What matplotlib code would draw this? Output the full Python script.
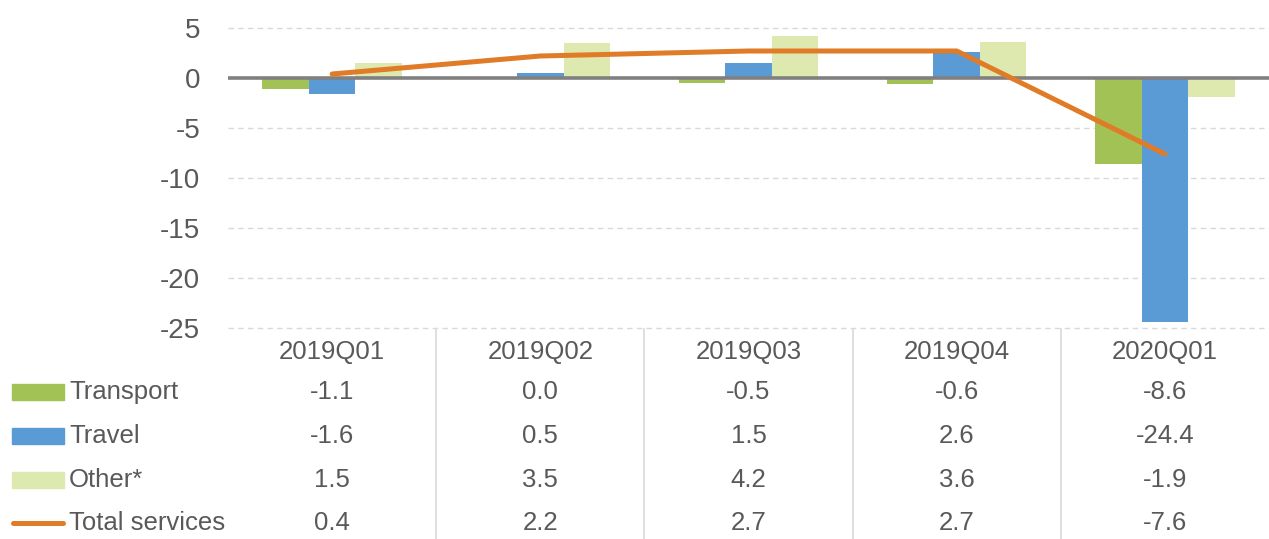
import matplotlib
matplotlib.use("Agg")
import matplotlib.pyplot as plt
import matplotlib.transforms as mtransforms
from matplotlib.patches import Rectangle
from matplotlib.lines import Line2D
import numpy as np

# data
quarters = ["2019Q01", "2019Q02", "2019Q03", "2019Q04", "2020Q01"]
transport = [-1.1, 0.0, -0.5, -0.6, -8.6]
travel = [-1.6, 0.5, 1.5, 2.6, -24.4]
other = [1.5, 3.5, 4.2, 3.6, -1.9]
total = [0.4, 2.2, 2.7, 2.7, -7.6]
series_names = ["Transport", "Travel", "Other*", "Total services"]
yticks = [5, 0, -5, -10, -15, -20, -25]

c_transport = "#a3c255"
c_travel = "#5b9bd5"
c_other = "#dee9b0"
c_total = "#e07b27"
c_text = "#595959"

plt.rcParams["font.family"] = ["Liberation Sans", "DejaVu Sans"]

W, H = 1269, 539
fig = plt.figure(figsize=(W / 100, H / 100), dpi=100)
ax = fig.add_axes([228 / W, (H - 328) / H, 1041 / W, 300 / H])

x = np.arange(len(quarters))
bw = 0.223

ax.bar(x - bw, transport, bw, color=c_transport, zorder=2)
ax.bar(x, travel, bw, color=c_travel, zorder=2)
ax.bar(x + bw, other, bw, color=c_other, zorder=2)
ax.axhline(0, color="#808080", lw=2.6, zorder=3)
ax.plot(x, total, color=c_total, lw=3.6, solid_capstyle="round",
        solid_joinstyle="round", zorder=4)

ax.set_xlim(-0.5, len(quarters) - 0.5)
ax.set_ylim(-25, 5)
ax.set_yticks(yticks)
ax.set_yticklabels([str(t) for t in yticks], fontsize=20, color=c_text)
ax.tick_params(axis="y", length=0, pad=20)
ax.set_xticks([])
for t in yticks:
    if t != 0:
        ax.axhline(t, color="#d9d9d9", lw=1.0, ls=(0, (4, 3)), zorder=1, clip_on=False)
for s in ax.spines.values():
    s.set_visible(False)

# data table under the plot
trans = mtransforms.blended_transform_factory(ax.transData, fig.transFigure)
def fy(py):
    return 1 - py / H

for i, q in enumerate(quarters):
    ax.text(i, fy(352), q, transform=trans, ha="center", va="center",
            fontsize=18.5, color=c_text, clip_on=False)
rows_y = [392, 436, 480, 523]
for vals, py in zip([transport, travel, other, total], rows_y):
    for i, v in enumerate(vals):
        ax.text(i, fy(py), f"{v:.1f}", transform=trans, ha="center",
                va="center", fontsize=18.5, color=c_text, clip_on=False)

for xs in x[:-1] + 0.5:
    ax.add_line(Line2D([xs, xs], [fy(329), fy(539)], transform=trans,
                       color="#d9d9d9", lw=1.2, clip_on=False))

# legend keys in the first column
for name, col, py in zip(series_names[:3], [c_transport, c_travel, c_other], rows_y[:3]):
    fig.add_artist(Rectangle((12 / W, fy(py + 8)), 52 / W, 16 / H,
                             transform=fig.transFigure, color=col))
fig.add_artist(Line2D([13 / W, 63 / W], [fy(523), fy(523)], transform=fig.transFigure,
                      color=c_total, lw=3.6, solid_capstyle="round"))
for name, py in zip(series_names, rows_y):
    fig.text(69 / W, fy(py), name, ha="left", va="center", fontsize=18.5, color=c_text)

fig.savefig("out.png", dpi=100)
